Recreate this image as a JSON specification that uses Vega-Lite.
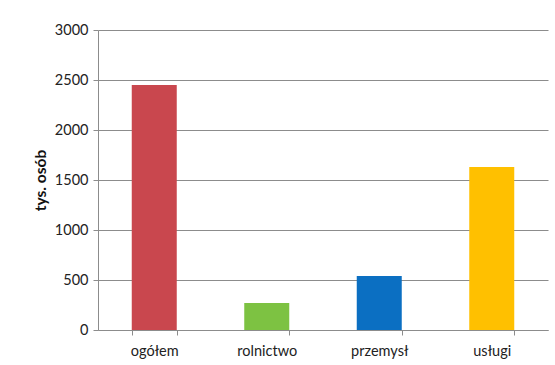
{
  "$schema": "https://vega.github.io/schema/vega-lite/v6.json",
  "width": 450,
  "height": 300,
  "autosize": {"type": "none"},
  "padding": {"left": 98, "top": 30, "right": 7, "bottom": 35},
  "background": "white",
  "config": {
    "view": {"stroke": null},
    "font": "Lato",
    "axis": {"labelFont": "Lato", "titleFont": "Lato"}
  },
  "data": {
    "values": [
      {"sektor": "ogółem", "osoby": 2450},
      {"sektor": "rolnictwo", "osoby": 270},
      {"sektor": "przemysł", "osoby": 540},
      {"sektor": "usługi", "osoby": 1630}
    ]
  },
  "mark": {"type": "bar"},
  "encoding": {
    "x": {
      "field": "sektor",
      "type": "nominal",
      "sort": null,
      "scale": {"paddingInner": 0.6, "paddingOuter": 0.3},
      "axis": {
        "title": null,
        "labelAngle": 0,
        "labelFontSize": 14.5,
        "labelColor": "#222",
        "labelPadding": 9,
        "domainColor": "#8c8c8c",
        "tickColor": "#8c8c8c",
        "tickBand": "extent",
        "tickSize": 5
      }
    },
    "y": {
      "field": "osoby",
      "type": "quantitative",
      "scale": {"domain": [0, 3000], "nice": false},
      "axis": {
        "values": [0, 500, 1000, 1500, 2000, 2500, 3000],
        "format": "d",
        "title": "tys. osób",
        "titleFontSize": 15.5,
        "titleFontWeight": "bold",
        "titleColor": "#111",
        "titlePadding": 6,
        "labelFontSize": 14.5,
        "labelColor": "#222",
        "labelPadding": 5,
        "domain": true,
        "domainColor": "#8c8c8c",
        "tickColor": "#8c8c8c",
        "tickSize": 5,
        "gridColor": "#8c8c8c",
        "gridWidth": 1
      }
    },
    "color": {
      "field": "sektor",
      "type": "nominal",
      "sort": null,
      "scale": {
        "domain": ["ogółem", "rolnictwo", "przemysł", "usługi"],
        "range": ["#C9474E", "#7DC242", "#0B6FC2", "#FFC000"]
      },
      "legend": null
    }
  }
}
